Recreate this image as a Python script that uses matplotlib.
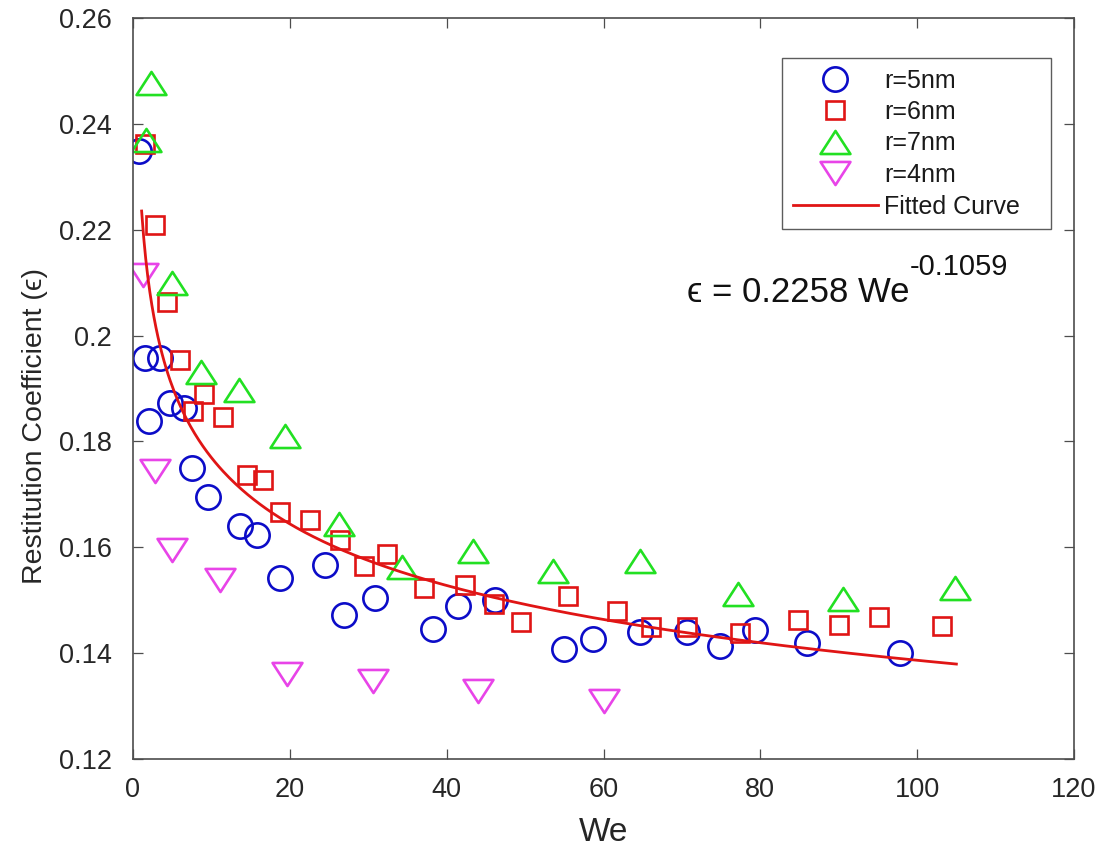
import matplotlib
matplotlib.use("Agg")
import matplotlib.pyplot as plt
import numpy as np
from matplotlib import font_manager
from matplotlib.path import Path
from matplotlib.ticker import FixedLocator, FixedFormatter

# ---------------- data ----------------
we_r5 = [0.8, 1.5, 2.0, 3.5, 4.7, 6.5, 7.5, 9.6, 13.7, 15.8, 18.8, 24.5, 26.9, 30.9,
         38.3, 41.4, 46.2, 54.9, 58.7, 64.6, 70.6, 74.8, 79.3, 86.0, 97.8]
eps_r5 = [0.2349, 0.1958, 0.1839, 0.1958, 0.1873, 0.1863, 0.1750, 0.1695, 0.1640, 0.1623,
          0.1542, 0.1567, 0.1472, 0.1504, 0.1446, 0.1489, 0.1500, 0.1408, 0.1427, 0.1440,
          0.1440, 0.1413, 0.1444, 0.1419, 0.1400]

we_r6 = [1.5, 2.8, 4.3, 6.0, 7.7, 9.1, 11.5, 14.6, 16.6, 18.8, 22.6, 26.4, 29.4, 32.4,
         37.1, 42.3, 46.0, 49.5, 55.5, 61.7, 66.0, 70.6, 77.4, 84.8, 90.0, 95.1, 103.2]
eps_r6 = [0.2362, 0.2209, 0.2063, 0.1954, 0.1857, 0.1890, 0.1846, 0.1737, 0.1727, 0.1667,
          0.1652, 0.1614, 0.1565, 0.1587, 0.1523, 0.1529, 0.1493, 0.1459, 0.1508, 0.1480,
          0.1449, 0.1449, 0.1438, 0.1463, 0.1453, 0.1468, 0.1451]

we_r7 = [2.3, 1.7, 5.0, 8.7, 13.5, 19.4, 26.3, 34.3, 43.4, 53.5, 64.7, 77.1, 90.5, 104.8]
eps_r7 = [0.2477, 0.2370, 0.2099, 0.1931, 0.1898, 0.1810, 0.1644, 0.1563, 0.1593, 0.1555,
          0.1574, 0.1512, 0.1502, 0.1523]

we_r4 = [1.3, 2.8, 5.0, 11.1, 19.7, 30.6, 44.0, 60.0]
eps_r4 = [0.2114, 0.1744, 0.1595, 0.1538, 0.1361, 0.1347, 0.1329, 0.1310]

fit_coef = 0.2258
fit_exp = -0.1059
fit_range = [1.1, 105.0]

xticks = [0, 20, 40, 60, 80, 100, 120]
yticks = [0.12, 0.14, 0.16, 0.18, 0.20, 0.22, 0.24, 0.26]
ytick_labels = ["0.12", "0.14", "0.16", "0.18", "0.2", "0.22", "0.24", "0.26"]

# ---------------- fonts ----------------
names = {f.name for f in font_manager.fontManager.ttflist}
base = ["Liberation Sans", "DejaVu Sans"]
narrow = ["Liberation Sans Narrow", "Liberation Sans", "DejaVu Sans"] if "Liberation Sans Narrow" in names else base
plt.rcParams["font.family"] = base

# ---------------- figure ----------------
fig = plt.figure(figsize=(10.97, 8.47), dpi=100)
ax = fig.add_axes([133 / 1097, 1 - 759 / 847, (1074 - 133) / 1097, (759 - 18) / 847])

blue = "#0c0cc8"
red = "#e01515"
green = "#22e022"
magenta = "#e844e8"

tri_up = Path([(0, 0.85), (-1.1, -0.85), (1.1, -0.85), (0, 0.85)],
              [Path.MOVETO, Path.LINETO, Path.LINETO, Path.CLOSEPOLY])
tri_dn = Path([(0, -0.85), (-1.1, 0.85), (1.1, 0.85), (0, -0.85)],
              [Path.MOVETO, Path.LINETO, Path.LINETO, Path.CLOSEPOLY])

mew = 1.9
ax.plot(we_r5, eps_r5, linestyle="none", marker="o", ms=17.5, mfc="none", mec=blue, mew=mew, label="r=5nm")
ax.plot(we_r6, eps_r6, linestyle="none", marker="s", ms=12.5, mfc="none", mec=red, mew=mew, label="r=6nm")
ax.plot(we_r7, eps_r7, linestyle="none", marker=tri_up, ms=21.5, mfc="none", mec=green, mew=mew, label="r=7nm")
ax.plot(we_r4, eps_r4, linestyle="none", marker=tri_dn, ms=21.5, mfc="none", mec=magenta, mew=mew, label="r=4nm")

xf = np.linspace(fit_range[0], fit_range[1], 400)
ax.plot(xf, fit_coef * xf ** fit_exp, color=red, lw=2.0, label="Fitted Curve   ")

ax.set_xlim(0, 120)
ax.set_ylim(0.12, 0.26)
ax.xaxis.set_major_locator(FixedLocator(xticks))
ax.yaxis.set_major_locator(FixedLocator(yticks))
ax.yaxis.set_major_formatter(FixedFormatter(ytick_labels))

axcol = "#4d4d4d"
for s in ax.spines.values():
    s.set_color(axcol)
    s.set_linewidth(1.2)
ax.tick_params(direction="in", length=7, width=0.9, color=axcol, top=True, right=True,
               labelsize=19.5, labelcolor="#262626")
ax.tick_params(axis="x", pad=13)
ax.tick_params(axis="y", pad=15)

ax.set_xlabel("We", fontsize=24, color="#262626", labelpad=10)
ax.set_ylabel("Restitution Coefficient (ϵ)", fontsize=20.5, color="#262626", family=narrow)
ax.yaxis.set_label_coords(-0.0905, 0.45)

leg = ax.legend(loc="upper left", bbox_to_anchor=((782 - 133) / 941, (759 - 58) / 741), borderaxespad=0,
                fontsize=18, frameon=True, fancybox=False, edgecolor="#333333",
                handlelength=3.4, labelspacing=0.3, handletextpad=0.25, borderpad=0.42)
leg.get_frame().set_linewidth(1.0)
for t in leg.get_texts():
    t.set_color("#1a1a1a")

main = ax.text(0.589, 0.617, "ϵ = 0.2258 We", transform=ax.transAxes, fontsize=25,
               va="baseline", ha="left", color="#111111")
ax.annotate("-0.1059", xy=(1.0, 0.0), xycoords=main, xytext=(0, 24), textcoords="offset points",
            fontsize=21, va="baseline", ha="left", color="#111111")

fig.savefig("out.png", dpi=100)
